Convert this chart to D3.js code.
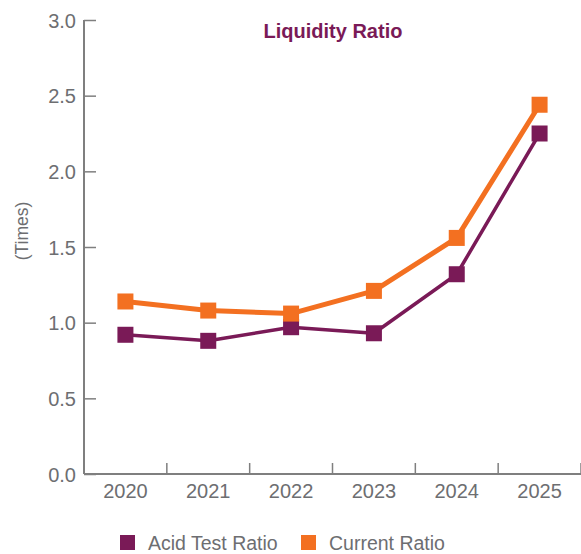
<!DOCTYPE html>
<html><head><meta charset="utf-8">
<script src="https://cdn.jsdelivr.net/npm/d3@7"></script>
<style>body{margin:0;background:#fff}svg{display:block}</style>
</head><body>
<svg id="c" width="581" height="554"></svg>
<script>
const years = ["2020","2021","2022","2023","2024","2025"];
const acidTest = [0.92, 0.88, 0.97, 0.93, 1.32, 2.25];
const currentRatio = [1.14, 1.08, 1.06, 1.21, 1.56, 2.44];
const yTicks = [0, 0.5, 1.0, 1.5, 2.0, 2.5, 3.0];
const seriesNames = ["Acid Test Ratio", "Current Ratio"];
const seriesColors = ["#7a1a57", "#f37021"];

const svg = d3.select("#c");
const font = "'Liberation Sans', Arial, sans-serif";
const axisCol = "#7f7f7f", textCol = "#6d6e71";
const x = d3.scaleBand().domain(years).range([84, 581]);
const y = d3.scaleLinear().domain([0, 3]).range([474, 20]);

// y axis
const ya = svg.append("g").attr("transform","translate(84,0)")
  .call(d3.axisRight(y).tickValues(yTicks).tickFormat(d3.format(".1f")).tickSize(12));
ya.select(".domain").attr("stroke", axisCol).attr("stroke-width", 2).attr("d","M0,20V474");
ya.selectAll(".tick line").attr("stroke", axisCol).attr("stroke-width", 1.5);
ya.selectAll(".tick text").attr("x", -8).attr("text-anchor","end")
  .attr("font-family", font).attr("font-size", 20).attr("fill", textCol).attr("dy","0.36em");

// x axis
const xa = svg.append("g").attr("transform","translate(0,474)");
xa.append("line").attr("x1",84).attr("x2",581).attr("y1",0).attr("y2",0)
  .attr("stroke", axisCol).attr("stroke-width", 2);
xa.selectAll(".xt").data(years).join("line").attr("class","xt")
  .attr("x1", d => x(d) + x.bandwidth()).attr("x2", d => x(d) + x.bandwidth())
  .attr("y1", 0).attr("y2", -11).attr("stroke", axisCol).attr("stroke-width", 1.5);
xa.selectAll(".xl").data(years).join("text").attr("class","xl")
  .attr("x", d => x(d) + x.bandwidth()/2).attr("y", 24)
  .attr("text-anchor","middle").attr("font-family", font).attr("font-size", 20)
  .attr("fill", textCol).text(d => d);

// y label
svg.append("text").attr("transform","translate(28,231) rotate(-90)")
  .attr("text-anchor","middle").attr("font-family", font).attr("font-size", 17.5)
  .attr("fill", textCol).text("(Times)");

// title
svg.append("text").attr("x", 333).attr("y", 38).attr("text-anchor","middle")
  .attr("font-family", font).attr("font-size", 20).attr("font-weight","bold")
  .attr("fill", "#7a1a57").text("Liquidity Ratio");

const cx = d => x(d) + x.bandwidth()/2;
const series = [acidTest, currentRatio];
const widths = [3.5, 5];
series.forEach((vals, i) => {
  const pts = years.map((yr, j) => [cx(yr), y(vals[j])]);
  svg.append("path").attr("d", d3.line()(pts)).attr("fill","none")
    .attr("stroke", seriesColors[i]).attr("stroke-width", widths[i]).attr("stroke-linejoin","round");
  svg.selectAll(".m"+i).data(pts).join("rect").attr("class","m"+i)
    .attr("x", d => d[0]-8).attr("y", d => d[1]-8).attr("width",16).attr("height",16)
    .attr("fill", seriesColors[i]);
});

// legend
const legX = [120, 301];
seriesNames.forEach((n, i) => {
  svg.append("rect").attr("x", legX[i]).attr("y", 535).attr("width", 15).attr("height", 15)
    .attr("fill", seriesColors[i]);
  svg.append("text").attr("x", legX[i] + 28).attr("y", 549.5)
    .attr("font-family", font).attr("font-size", 19.5).attr("fill", textCol).text(n);
});
</script>
</body></html>
